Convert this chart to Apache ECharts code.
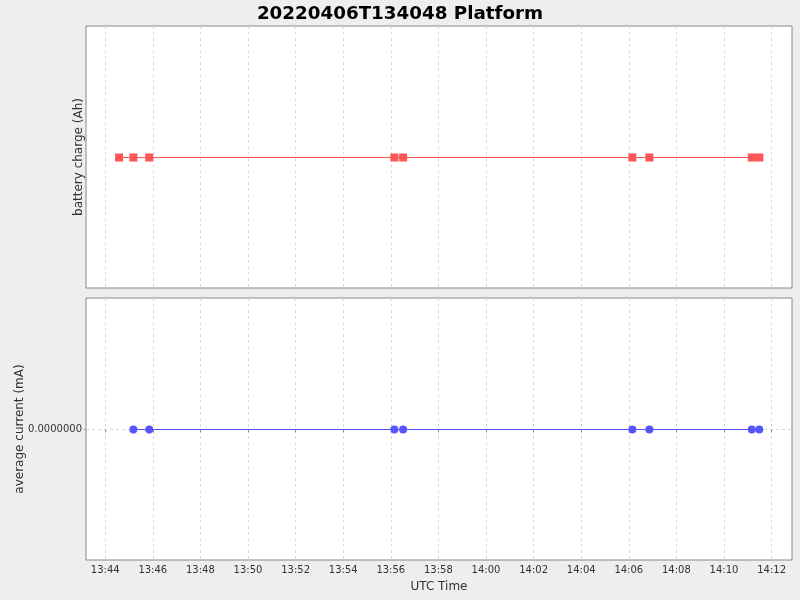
<!DOCTYPE html>
<html><head><meta charset="utf-8">
<script src="https://cdn.jsdelivr.net/npm/echarts@6/dist/echarts.min.js"></script>
<style>html,body{margin:0;padding:0;background:#eeeeee}#c{width:800px;height:600px}</style>
</head><body><div id="c"></div>
<script>
const titleText = "20220406T134048 Platform";
const chargeTimes = ["13:44:35","13:45:11","13:45:51","13:56:09","13:56:31","14:06:09","14:06:52","14:11:10","14:11:29"];
const chargeValues = [0,0,0,0,0,0,0,0,0];
const currentTimes = ["13:45:11","13:45:51","13:56:09","13:56:31","14:06:09","14:06:52","14:11:10","14:11:29"];
const currentValues = [0,0,0,0,0,0,0,0];
const xTickLabels = ["13:44","13:46","13:48","13:50","13:52","13:54","13:56","13:58","14:00","14:02","14:04","14:06","14:08","14:10","14:12"];
const xMinTime = "13:43:11.6";
const xMaxTime = "14:12:51.4";

function toMin(s){const p=s.split(':').map(Number);return p[0]*60+p[1]+(p[2]||0)/60;}
function fmt(v){let m=Math.round(v);const h=Math.floor(m/60);m=m%60;return String(h).padStart(2,'0')+':'+String(m).padStart(2,'0');}
const xTicks = xTickLabels.map(toMin);
const xMin = toMin(xMinTime), xMax = toMin(xMaxTime);
const font = 'DejaVu Sans';
const gridLine = {show:true, lineStyle:{color:'#d8d8d8', type:[3,3], width:1}};
function xAxis(idx, showLabels){
  return {type:'value', gridIndex:idx, min:xMin, max:xMax,
    axisLine:{show:false},
    axisTick:{show:showLabels, customValues:xTicks, length:3, inside:false, lineStyle:{color:'#888'}},
    axisLabel:{show:showLabels, customValues:xTicks, formatter:fmt, fontFamily:font, fontSize:10, color:'#333', margin:5},
    splitLine:gridLine,
    name: showLabels ? 'UTC Time' : '', nameLocation:'middle', nameGap:21,
    nameTextStyle:{fontFamily:font, fontSize:12, color:'#333'}};
}
const yMax = 131.5/130.5;
const chart = echarts.init(document.getElementById('c'), null, {renderer:'canvas'});
chart.setOption({
  backgroundColor:'#eeeeee',
  animation:false,
  title:{text:titleText, left:'center', top:0, textStyle:{fontFamily:font, fontSize:18.3, fontWeight:'bold', color:'#000'}},
  grid:[
    {left:86, top:26, width:706, height:262, show:true, backgroundColor:'#ffffff', borderColor:'#888', borderWidth:1, outerBoundsMode:'none', containLabel:false},
    {left:86, top:298, width:706, height:262, show:true, backgroundColor:'#ffffff', borderColor:'#888', borderWidth:1, outerBoundsMode:'none', containLabel:false}
  ],
  xAxis:[xAxis(0,false), xAxis(1,true)],
  yAxis:[
    {type:'value', gridIndex:0, min:-1, max:yMax, axisLine:{show:false}, axisTick:{show:false}, axisLabel:{show:false}, splitLine:{show:false},
     name:'battery charge (Ah)', nameLocation:'middle', nameGap:1, nameTextStyle:{fontFamily:font, fontSize:12, color:'#333'}},
    {type:'value', gridIndex:1, min:-1, max:yMax, axisLine:{show:false},
     axisTick:{show:true, customValues:[0], length:2, lineStyle:{color:'#888'}},
     axisLabel:{customValues:[0], formatter:v=>v.toFixed(7), fontFamily:font, fontSize:10, color:'#333', margin:4},
     splitLine:{show:true, lineStyle:{color:'#d8d8d8', type:[3,3]}},
     name:'average current (mA)', nameLocation:'middle', nameGap:60, nameMoveOverlap:false, nameTextStyle:{fontFamily:font, fontSize:12, color:'#333'}}
  ],
  series:[
    {type:'line', xAxisIndex:0, yAxisIndex:0, data:chargeTimes.map((t,i)=>[toMin(t),chargeValues[i]]),
     symbol:'rect', symbolSize:8, itemStyle:{color:'#ff5555'}, lineStyle:{color:'#ff5555', width:1}, z:3},
    {type:'line', xAxisIndex:1, yAxisIndex:1, data:currentTimes.map((t,i)=>[toMin(t),currentValues[i]]),
     symbol:'circle', symbolSize:8, itemStyle:{color:'#5555ff'}, lineStyle:{color:'#5555ff', width:1}, z:3}
  ]
});
</script></body></html>
